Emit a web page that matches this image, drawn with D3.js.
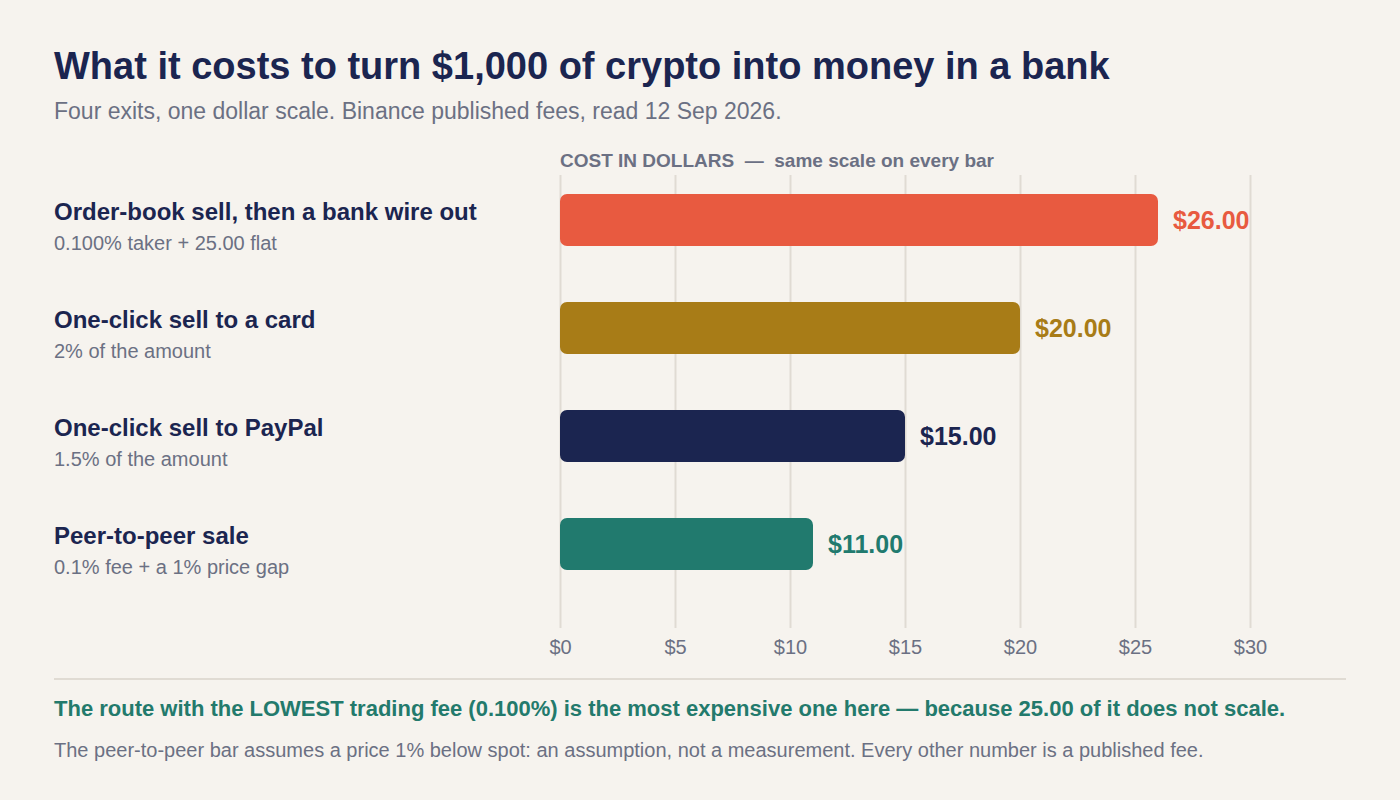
<!DOCTYPE html>
<html>
<head>
<meta charset="utf-8">
<script src="https://cdn.jsdelivr.net/npm/d3@7"></script>
<style>
  body { margin: 0; background: #f6f3ee; }
  svg { display: block; font-family: "Liberation Sans", Arial, sans-serif; }
</style>
</head>
<body>
<svg width="1400" height="800"></svg>
<script>
// data
const routes = [
    "Order-book sell, then a bank wire out",
    "One-click sell to a card",
    "One-click sell to PayPal",
    "Peer-to-peer sale"
];
const notes = [
    "0.100% taker + 25.00 flat",
    "2% of the amount",
    "1.5% of the amount",
    "0.1% fee + a 1% price gap"
];
const costs = [26, 20, 15, 11];
const colors = ["#e85a40", "#a87c17", "#1b2550", "#217a6e"];
const tickValues = [0, 5, 10, 15, 20, 25, 30];

const navy = "#1b2550";
const gray = "#6b7083";
const grid = "#e0dbd3";

var svg = d3.select("svg");
svg.append("rect").attr("width", 1400).attr("height", 800).attr("fill", "#f6f3ee");

svg.append("text")
    .attr("x", 54).attr("y", 79)
    .attr("font-size", 38).attr("font-weight", "bold").attr("fill", navy)
    .text("What it costs to turn $1,000 of crypto into money in a bank");

svg.append("text")
    .attr("x", 54).attr("y", 119)
    .attr("font-size", 23).attr("fill", gray)
    .text("Four exits, one dollar scale. Binance published fees, read 12 Sep 2026.");

var x = d3.scaleLinear().domain([0, 30]).range([560, 1250]);
var y = d3.scaleBand().domain(routes).range([166, 598])
    .paddingInner(56 / 108).paddingOuter(28 / 108);

var header = svg.append("text")
    .attr("x", 560).attr("y", 167)
    .attr("font-size", 19).attr("font-weight", "bold").attr("fill", gray);
header.append("tspan").text("COST IN DOLLARS");
header.append("tspan").attr("xml:space", "preserve").text("  —  same scale on every bar");

// grid + ticks
var axis = svg.append("g")
    .attr("transform", "translate(0,628)")
    .call(d3.axisBottom(x).tickValues(tickValues).tickFormat(d => "$" + d).tickSize(-453));
axis.select(".domain").remove();
axis.selectAll(".tick line").attr("stroke", grid).attr("stroke-width", 2);
axis.selectAll(".tick text")
    .attr("y", 12).attr("dy", "0.71em")
    .attr("font-size", 20).attr("font-family", "Liberation Sans, Arial, sans-serif")
    .attr("fill", gray);

var rows = svg.selectAll("g.row")
    .data(routes)
    .enter()
    .append("g")
    .attr("class", "row");

rows.append("rect")
    .attr("x", x(0))
    .attr("y", d => y(d))
    .attr("width", (d, i) => x(costs[i]) - x(0))
    .attr("height", y.bandwidth())
    .attr("rx", 7)
    .attr("fill", (d, i) => colors[i]);

rows.append("text")
    .attr("x", (d, i) => x(costs[i]) + 15)
    .attr("y", d => y(d) + y.bandwidth() / 2 + 9)
    .attr("font-size", 25).attr("font-weight", "bold")
    .attr("fill", (d, i) => colors[i])
    .text((d, i) => "$" + costs[i].toFixed(2));

rows.append("text")
    .attr("x", 54)
    .attr("y", d => y(d) + 26)
    .attr("font-size", 24).attr("font-weight", "bold").attr("fill", navy)
    .text(d => d);

rows.append("text")
    .attr("x", 54)
    .attr("y", d => y(d) + 56)
    .attr("font-size", 20).attr("fill", gray)
    .text((d, i) => notes[i]);

svg.append("line")
    .attr("x1", 54).attr("x2", 1346)
    .attr("y1", 679).attr("y2", 679)
    .attr("stroke", grid).attr("stroke-width", 2);

svg.append("text")
    .attr("x", 54).attr("y", 716)
    .attr("font-size", 22).attr("font-weight", "bold").attr("fill", "#237a6c")
    .text("The route with the LOWEST trading fee (0.100%) is the most expensive one here — because 25.00 of it does not scale.");

svg.append("text")
    .attr("x", 54).attr("y", 757)
    .attr("font-size", 20).attr("fill", gray)
    .text("The peer-to-peer bar assumes a price 1% below spot: an assumption, not a measurement. Every other number is a published fee.");
</script>
</body>
</html>
